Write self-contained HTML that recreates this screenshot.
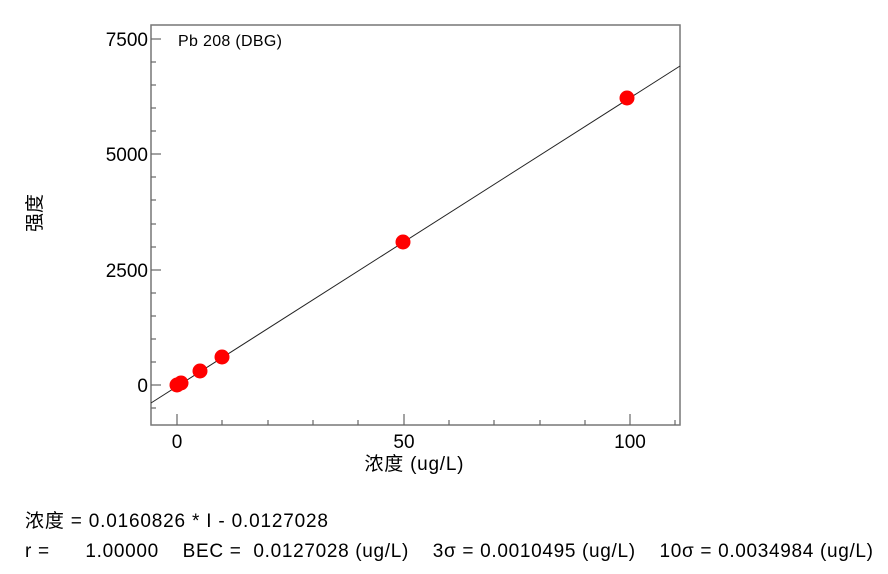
<!DOCTYPE html>
<html><head><meta charset="utf-8"><style>
body{margin:0;background:#fff;width:888px;height:574px;overflow:hidden}
svg{display:block}
text{font-family:"Liberation Sans","Noto Sans CJK SC",sans-serif;fill:#000}
</style></head><body>
<svg width="888" height="574" viewBox="0 0 888 574">
<rect x="151" y="25" width="529" height="400" fill="none" stroke="#777" stroke-width="1.5"/>
<g stroke="#666" stroke-width="1.2">
<line x1="151" y1="39" x2="161" y2="39"/><line x1="151" y1="154" x2="161" y2="154"/><line x1="151" y1="270" x2="161" y2="270"/><line x1="151" y1="385" x2="161" y2="385"/>
<line x1="151" y1="62" x2="156" y2="62"/><line x1="151" y1="85" x2="156" y2="85"/><line x1="151" y1="108" x2="156" y2="108"/><line x1="151" y1="131" x2="156" y2="131"/>
<line x1="151" y1="177" x2="156" y2="177"/><line x1="151" y1="200" x2="156" y2="200"/><line x1="151" y1="224" x2="156" y2="224"/><line x1="151" y1="247" x2="156" y2="247"/>
<line x1="151" y1="293" x2="156" y2="293"/><line x1="151" y1="316" x2="156" y2="316"/><line x1="151" y1="339" x2="156" y2="339"/><line x1="151" y1="362" x2="156" y2="362"/>
<line x1="151" y1="408" x2="156" y2="408"/>
<line x1="177" y1="425" x2="177" y2="414"/><line x1="404" y1="425" x2="404" y2="414"/><line x1="630" y1="425" x2="630" y2="414"/>
<line x1="222" y1="425" x2="222" y2="420"/><line x1="268" y1="425" x2="268" y2="420"/><line x1="313" y1="425" x2="313" y2="420"/><line x1="358" y1="425" x2="358" y2="420"/>
<line x1="449" y1="425" x2="449" y2="420"/><line x1="494" y1="425" x2="494" y2="420"/><line x1="540" y1="425" x2="540" y2="420"/><line x1="585" y1="425" x2="585" y2="420"/>
<line x1="675" y1="425" x2="675" y2="420"/>
</g>
<g font-size="19" text-anchor="end">
<text x="148" y="46">7500</text><text x="148" y="161">5000</text><text x="148" y="277">2500</text><text x="148" y="392">0</text>
</g>
<g font-size="19" text-anchor="middle">
<text x="177" y="448">0</text><text x="404" y="448">50</text><text x="630" y="448">100</text>
</g>
<text x="414" y="470" font-size="19" text-anchor="middle" textLength="99">浓度 (ug/L)</text>
<text transform="translate(41,213) rotate(-90)" font-size="19" text-anchor="middle">强度</text>
<text x="178" y="46" font-size="16" textLength="104">Pb 208 (DBG)</text>
<line x1="151" y1="403" x2="680" y2="66" stroke="#222" stroke-width="1"/>
<g fill="#f00">
<circle cx="177" cy="385" r="7.5"/><circle cx="181" cy="383" r="7.5"/><circle cx="200" cy="371" r="7.5"/><circle cx="222" cy="357" r="7.5"/><circle cx="403" cy="242" r="7.5"/><circle cx="627" cy="98" r="7.5"/>
</g>
<text x="25" y="527" font-size="19" textLength="303">浓度 = 0.0160826 * I - 0.0127028</text>
<text x="25" y="557" font-size="19" xml:space="preserve" textLength="848">r =      1.00000    BEC =  0.0127028 (ug/L)    3σ = 0.0010495 (ug/L)    10σ = 0.0034984 (ug/L)</text>
</svg>
</body></html>
